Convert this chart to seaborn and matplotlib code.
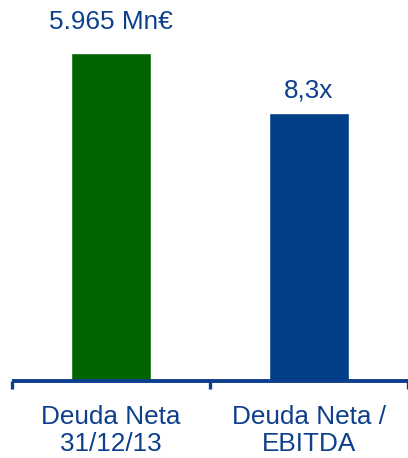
import matplotlib
matplotlib.use("Agg")
import matplotlib.pyplot as plt
import seaborn as sns
import pandas as pd

# Data (bar heights are relative)
categories = ["Deuda Neta\n31/12/13", "Deuda Neta /\nEBITDA"]
bar_heights = [100, 81.7]
value_labels = ["5.965 Mn€", "8,3x"]
bar_colors = ["#006400", "#003F87"]

df = pd.DataFrame({"cat": categories, "val": bar_heights})

sns.set_style("white")
plt.rcParams["font.family"] = ["Liberation Sans", "DejaVu Sans"]
text_color = "#0D3F8C"

fig = plt.figure(figsize=(4.08, 4.58), dpi=100)
ax = fig.add_axes([12 / 408, (458 - 381) / 458, 1 - 12 / 408, 381 / 458])

sns.barplot(data=df, x="cat", y="val", hue="cat", palette=bar_colors,
            width=0.404, saturation=1, legend=False, ax=ax)

ax.set_xlim(-0.5, 1.5)
ax.set_ylim(0, 100 * 381 / 328)

# value labels above bars
offsets = [17, 11.5]
for i, (h, lab) in enumerate(zip(bar_heights, value_labels)):
    ax.annotate(lab, (i, h), xytext=(0, offsets[i]), textcoords="offset points",
                ha="center", va="baseline", fontsize=18.8, color=text_color)

for s in ["top", "right", "left"]:
    ax.spines[s].set_visible(False)
ax.spines["bottom"].set_color("#0D3F8C")
ax.spines["bottom"].set_linewidth(2.8)
ax.spines["bottom"].set_capstyle("butt")

ax.set_yticks([])
ax.set_xlabel("")
ax.set_ylabel("")
ax.set_xticks([0, 1])
ax.set_xticklabels(categories, fontsize=18.8, color=text_color, linespacing=1.2)
ax.tick_params(axis="x", which="major", bottom=True, length=0, pad=17)
ax.set_xticks([-0.5, 0.5, 1.5], minor=True)
ax.tick_params(axis="x", which="minor", bottom=True, direction="out", length=6,
               width=2.4, color="#0D3F8C")
for t in ax.xaxis.get_minor_ticks():
    t.tick1line.set_clip_on(False)

fig.savefig("out.png", dpi=100)
